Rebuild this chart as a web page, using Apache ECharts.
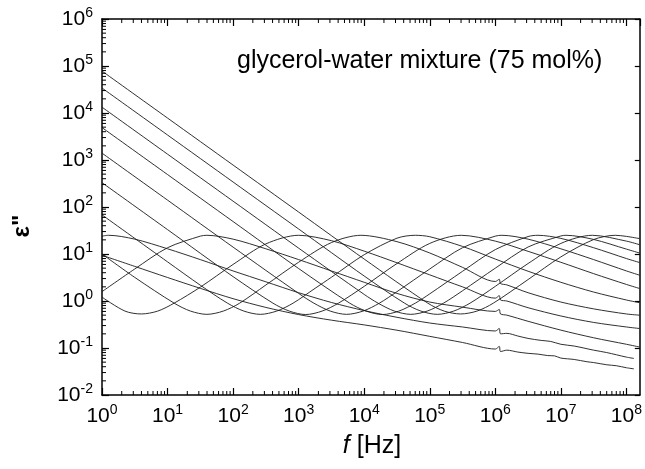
<!DOCTYPE html>
<html>
<head>
<meta charset="utf-8">
<script src="https://cdn.jsdelivr.net/npm/echarts@6/dist/echarts.min.js"></script>
<style>
  html, body { margin: 0; padding: 0; background: #fff; }
  #chart { width: 645px; height: 469px; }
</style>
</head>
<body>
<div id="chart"></div>
<script>
// Dielectric loss spectra, one array per temperature: [frequency in Hz, loss]
const curveZ = [[1,9.4],[3.16,5.45],[10,3.16],[31.6,1.86],[100,1.12],[316,0.73],[1000,0.514],[3160,0.391],[1e4,0.31],[3.16e4,0.239],[1e5,0.177],[3.16e5,0.131],[1e6,0.095],[1.15e6,0.108],[1.2e6,0.084],[1.5e6,0.09],[2.2e6,0.082],[3.16e6,0.077],[4.5e6,0.074],[6.3e6,0.069],[8e6,0.068],[1e7,0.061],[1.6e7,0.057],[2.5e7,0.051],[3.16e7,0.049],[5e7,0.044],[7e7,0.042],[1e8,0.038],[1.3e8,0.036]];
const curveA = [[1,24.0],[1.26,25],[3.16,20.7],[10,12.9],[31.6,7.6],[100,4.36],[316,2.56],[1000,1.5],[3160,0.93],[1e4,0.625],[3.16e4,0.45],[1e5,0.34],[3.16e5,0.28],[1e6,0.23],[1.15e6,0.26],[1.2e6,0.2],[1.5e6,0.205],[2.2e6,0.18],[3.16e6,0.16],[5e6,0.145],[7e6,0.138],[1e7,0.12],[1.6e7,0.11],[3.16e7,0.09],[5e7,0.08],[1e8,0.064],[1.3e8,0.06]];
const curveB = [[1,1.58],[3.16,4.8],[10,13.6],[31.6,24.0],[39.8,25],[100,20.7],[316,12.9],[1000,7.6],[3160,4.36],[1e4,2.5],[3.16e4,1.45],[1e5,0.95],[3.16e5,0.74],[1e6,0.6],[1.15e6,0.66],[1.2e6,0.53],[1.5e6,0.5],[3.16e6,0.37],[1e7,0.24],[3.16e7,0.165],[1e8,0.12],[1.58e8,0.105]];
const curveC = [[1,1.21],[2.24,0.61],[3.98,0.53],[7.08,0.61],[12.6,0.9],[31.6,1.97],[100,6.0],[316,16.4],[1000,25],[3160,19.2],[1e4,11.5],[3.16e4,6.5],[1e5,3.6],[3.16e5,2.0],[1e6,1.15],[1.15e6,1.3],[1.2e6,1.05],[1.5e6,1.0],[3.16e6,0.72],[1e7,0.48],[3.16e7,0.35],[1e8,0.28],[1.58e8,0.26]];
const curveD = [[1,10.0],[3.16,3.18],[12.6,0.9],[22.4,0.61],[39.8,0.52],[70.8,0.61],[126,0.9],[316,2.19],[1000,6.69],[3160,17.5],[8910,25],[3.16e4,18.3],[1e5,10.5],[3.16e5,5.2],[1e6,2.6],[1.15e6,2.9],[1.2e6,2.35],[1.5e6,2.2],[3.16e6,1.5],[1e7,0.95],[3.16e7,0.68],[1e8,0.53],[1.58e8,0.5]];
const curveE = [[1,68],[10,6.8],[31.6,2.17],[82,0.9],[146,0.61],[260,0.52],[462,0.61],[822,0.9],[1780,1.86],[3160,3.2],[1e4,9.67],[3.16e4,21.7],[6.03e4,25],[1e5,23.3],[3.16e5,14.5],[1e6,7.8],[3.16e6,4.3],[1e7,2.5],[3.16e7,1.55],[1e8,1.05],[1.58e8,0.92]];
const curveF = [[1,330],[10,33],[100,3.3],[405,0.9],[721,0.61],[1282,0.515],[2280,0.61],[4054,0.9],[1e4,2.05],[3.16e4,6.27],[1e5,16.8],[3.02e5,25],[1e6,18.8],[3.16e6,11.4],[1e7,6.66],[3.16e7,3.82],[1e8,2.25],[1.58e8,1.85]];
const curveG = [[1,1400],[10,140],[100,14],[1000,1.45],[1706,0.9],[3034,0.61],[5395,0.52],[9593,0.61],[17060,0.9],[3.16e4,1.58],[1e5,4.8],[3.16e5,13.6],[1e6,24.0],[1.26e6,25],[3.16e6,20.7],[1e7,12.9],[3.16e7,7.6],[1e8,4.36],[1.58e8,3.55]];
const curveH = [[1,4900],[10,490],[100,49],[1000,4.9],[6012,0.9],[10690,0.61],[19010,0.515],[33800,0.61],[60120,0.9],[1e5,1.42],[3.16e5,4.28],[1e6,12.4],[3.16e6,23.5],[4.47e6,25],[1e7,21.5],[3.16e7,13.6],[1e8,8.0],[1.58e8,6.6]];
const curveI = [[1,13300],[10,1330],[100,133],[1000,13.3],[1e4,1.38],[16230,0.9],[28860,0.61],[51320,0.52],[91260,0.61],[162300,0.9],[3.16e5,1.65],[1e6,5.0],[3.16e6,14.1],[1e7,24.2],[1.2e7,25],[3.16e7,20.4],[1e8,12.7],[1.58e8,10.5]];
const curveJ = [[1,34000],[10,3400],[100,340],[1000,34],[1e4,3.4],[41170,0.9],[73230,0.61],[130200,0.52],[231500,0.61],[411700,0.9],[1e6,2.05],[3.16e6,6.27],[1e7,16.8],[3.02e7,25],[1e8,18.8],[1.58e8,15.8]];
const curveK = [[1,78000],[10,7800],[100,780],[1000,78],[1e4,7.8],[93300,0.9],[165900,0.61],[295000,0.53],[524600,0.61],[932900,0.9],[3.16e6,2.86],[1e7,8.68],[3.16e7,20.3],[6.76e7,25],[1e8,23.7],[1.58e8,21.3]];

const spectra = [curveZ, curveA, curveB, curveC, curveD, curveE, curveF, curveG, curveH, curveI, curveJ, curveK];

// axis ranges (log scales) and tick decoration
const xRange = [1, 1.6e8];
const yRange = [0.01, 1e6];
const xDecades = [0, 1, 2, 3, 4, 5, 6, 7, 8];
const yDecades = [-2, -1, 0, 1, 2, 3, 4, 5];
const minorSteps = [2, 3, 4, 5, 6, 7, 8, 9];

const FONT = '"Liberation Sans", Arial, Helvetica, sans-serif';
const INK = '#000';
const MINOR_LEN = 4;

const minorTicks = [];
xDecades.forEach(function (e) {
  minorSteps.forEach(function (m) {
    const v = m * Math.pow(10, e);
    if (v < xRange[1]) { minorTicks.push([v, 1, 0]); minorTicks.push([v, 1, 1]); }
  });
});
yDecades.forEach(function (e) {
  minorSteps.forEach(function (m) {
    minorTicks.push([1, m * Math.pow(10, e), 2]);
  });
});

function powerLabel(v) {
  const e = Math.round(Math.log10(v));
  return '{b|10}{s|' + e + '}';
}
const powerRich = {
  b: { fontFamily: FONT, fontSize: 21, color: INK, lineHeight: 26 },
  s: { fontFamily: FONT, fontSize: 14, color: INK, lineHeight: 14, verticalAlign: 'top' }
};

function logAxis(range, position, showLabels, tickLen) {
  return {
    type: 'log',
    logBase: 10,
    min: range[0],
    max: range[1],
    position: position,
    splitNumber: 8,
    axisLine: { show: true, lineStyle: { color: INK, width: 1.5 } },
    axisTick: { show: true, inside: true, length: tickLen, lineStyle: { color: INK, width: 1.2 } },
    axisLabel: showLabels
      ? { show: true, formatter: powerLabel, rich: powerRich, margin: position === 'bottom' ? 8 : 9 }
      : { show: false },
    splitLine: { show: false },
    minorTick: { show: false }
  };
}

function drawMinorTick(params, api) {
  const side = api.value(2);
  let a, b;
  if (side === 0) {
    a = api.coord([api.value(0), yRange[0]]);
    b = [a[0], a[1] - MINOR_LEN];
  } else if (side === 1) {
    a = api.coord([api.value(0), yRange[1]]);
    b = [a[0], a[1] + MINOR_LEN];
  } else {
    a = api.coord([xRange[0], api.value(1)]);
    b = [a[0] + MINOR_LEN, a[1]];
  }
  return {
    type: 'line',
    shape: { x1: a[0], y1: a[1], x2: b[0], y2: b[1] },
    style: { stroke: INK, lineWidth: 1 }
  };
}

const lineSeries = spectra.map(function (pts) {
  return {
    type: 'line',
    data: pts,
    showSymbol: false,
    smooth: 0.3,
    clip: true,
    lineStyle: { color: '#1a1a1a', width: 0.9 },
    silent: true,
    animation: false
  };
});

const chart = echarts.init(document.getElementById('chart'), null, { renderer: 'canvas' });
chart.setOption({
  animation: false,
  backgroundColor: '#fff',
  grid: { left: 102, top: 19, width: 542, height: 376, containLabel: false },
  xAxis: [
    logAxis(xRange, 'bottom', true, 7),
    logAxis(xRange, 'top', false, 7)
  ],
  yAxis: [
    logAxis(yRange, 'left', true, 7),
    logAxis(yRange, 'right', false, 5)
  ],
  series: lineSeries.concat([{
    type: 'custom',
    data: minorTicks,
    encode: { x: 0, y: 1 },
    renderItem: drawMinorTick,
    silent: true,
    animation: false,
    z: 5
  }]),
  graphic: [
    {
      type: 'text', left: 237, top: 49,
      style: { text: 'glycerol-water mixture (75 mol%)', font: '25px ' + FONT, fill: INK }
    },
    {
      type: 'text', x: 372, y: 446,
      style: {
        text: '{i|f} [Hz]',
        align: 'center', verticalAlign: 'middle',
        rich: {
          i: { fontFamily: FONT, fontSize: 25, fontStyle: 'italic', fill: INK }
        },
        font: '25px ' + FONT, fill: INK
      }
    },
    {
      type: 'text', x: 22, y: 226, rotation: Math.PI / 2,
      style: { text: 'ε"', font: 'bold 24px ' + FONT, fill: INK, align: 'center', verticalAlign: 'middle' }
    }
  ]
});
</script>
</body>
</html>
